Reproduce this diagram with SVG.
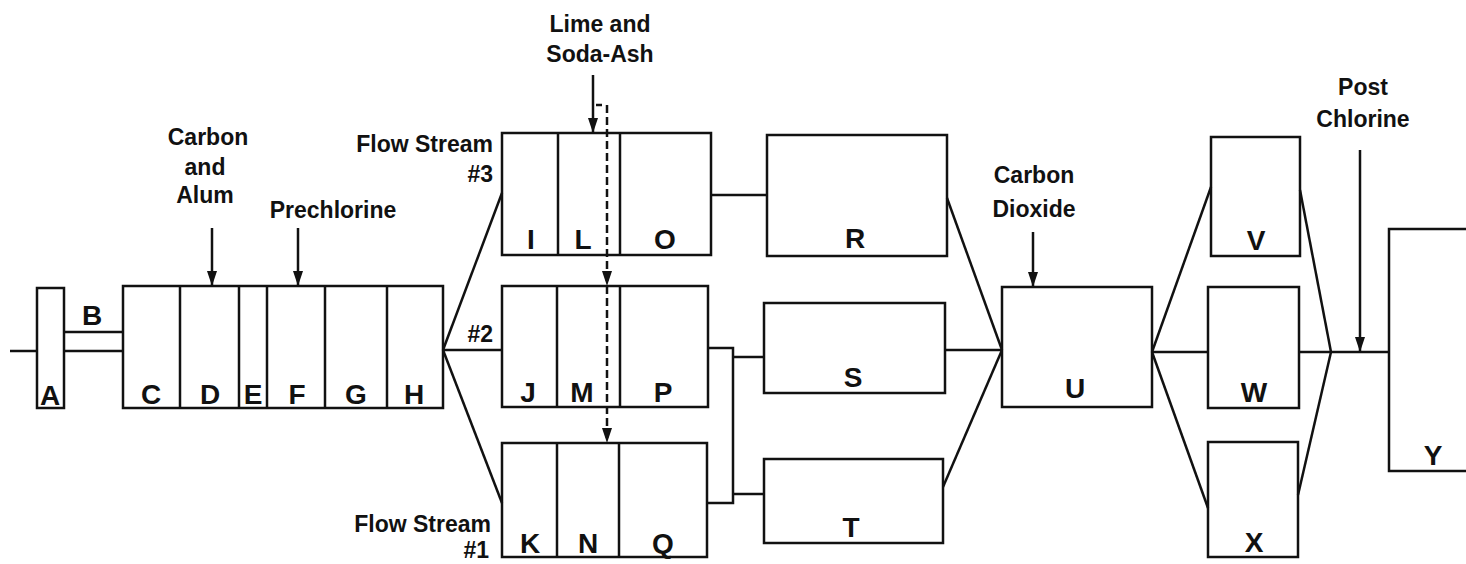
<svg xmlns="http://www.w3.org/2000/svg" width="1466" height="564" viewBox="0 0 1466 564">
<style>
.b{fill:none;stroke:#111;stroke-width:2.5}
.l{fill:none;stroke:#111;stroke-width:2.5}
.d{fill:none;stroke:#111;stroke-width:2.5;stroke-dasharray:8 4}
.k{font-family:"Liberation Sans",Arial,sans-serif;font-weight:bold;font-size:28px;fill:#111;text-anchor:middle}
.t{font-family:"Liberation Sans",Arial,sans-serif;font-weight:bold;font-size:23px;fill:#111;text-anchor:middle}
.r{text-anchor:end}
</style>
<defs>
<marker id="ah" markerUnits="userSpaceOnUse" viewBox="0 0 15 10" refX="15" refY="5" markerWidth="15" markerHeight="10" orient="auto">
<path d="M0,0 L15,5 L0,10 z" fill="#111"/>
</marker>
</defs>
<rect width="1466" height="564" fill="#fff"/>

<g id="connectors">
<line class="l" x1="10" y1="351" x2="37" y2="351"/>
<line class="l" x1="64" y1="332" x2="123" y2="332"/>
<line class="l" x1="64" y1="351" x2="123" y2="351"/>
<line class="l" x1="443" y1="350" x2="502" y2="193"/>
<line class="l" x1="443" y1="350" x2="502" y2="350"/>
<line class="l" x1="443" y1="350" x2="502" y2="503"/>
<line class="l" x1="711" y1="195" x2="767" y2="195"/>
<polyline class="l" points="708,348 733,348 733,503 707,503"/>
<line class="l" x1="733" y1="357" x2="764" y2="357"/>
<line class="l" x1="733" y1="494" x2="764" y2="494"/>
<line class="l" x1="947" y1="198" x2="1002" y2="350"/>
<line class="l" x1="945" y1="350" x2="1002" y2="350"/>
<line class="l" x1="943" y1="487" x2="1002" y2="350"/>
<line class="l" x1="1152" y1="352" x2="1211" y2="187"/>
<line class="l" x1="1152" y1="352" x2="1208" y2="352"/>
<line class="l" x1="1152" y1="352" x2="1208" y2="508"/>
<line class="l" x1="1300" y1="190" x2="1331" y2="352"/>
<line class="l" x1="1299" y1="352" x2="1390" y2="352"/>
<line class="l" x1="1298" y1="495" x2="1331" y2="352"/>
<line class="l" x1="212" y1="228" x2="212" y2="286" marker-end="url(#ah)"/>
<line class="l" x1="298" y1="228" x2="298" y2="286" marker-end="url(#ah)"/>
<line class="l" x1="593" y1="75" x2="593" y2="133" marker-end="url(#ah)"/>
<line class="l" x1="1033" y1="232" x2="1033" y2="287" marker-end="url(#ah)"/>
<line class="l" x1="1360" y1="150" x2="1360" y2="352" marker-end="url(#ah)"/>
<line class="l" x1="596" y1="105" x2="602" y2="105"/>
<line class="d" x1="607" y1="105" x2="607" y2="286" marker-end="url(#ah)"/>
<line class="d" x1="607" y1="286" x2="607" y2="443" marker-end="url(#ah)"/>
</g>

<g id="labels">
<text class="t" x="208" y="145">Carbon</text>
<text class="t" x="205" y="175">and</text>
<text class="t" x="205" y="203">Alum</text>
<text class="t" x="333" y="218">Prechlorine</text>
<text class="t" x="600" y="32">Lime and</text>
<text class="t" x="600" y="62">Soda-Ash</text>
<text class="t r" x="493" y="152">Flow Stream</text>
<text class="t r" x="493" y="182">#3</text>
<text class="t r" x="493" y="342">#2</text>
<text class="t r" x="491" y="532">Flow Stream</text>
<text class="t r" x="489" y="558">#1</text>
<text class="t" x="1034" y="183">Carbon</text>
<text class="t" x="1034" y="217">Dioxide</text>
<text class="t" x="1363" y="95">Post</text>
<text class="t" x="1363" y="127">Chlorine</text>
</g>

<g id="node-A"><rect class="b" x="37" y="288" width="27" height="120"/><text class="k" x="50" y="405">A</text></g>
<g id="node-B"><text class="k" x="92" y="325">B</text></g>
<g id="node-CH">
<rect class="b" x="123" y="286" width="320" height="122"/>
<line class="l" x1="180" y1="286" x2="180" y2="408"/>
<line class="l" x1="239" y1="286" x2="239" y2="408"/>
<line class="l" x1="267" y1="286" x2="267" y2="408"/>
<line class="l" x1="325" y1="286" x2="325" y2="408"/>
<line class="l" x1="387" y1="286" x2="387" y2="408"/>
<text class="k" x="151" y="404">C</text>
<text class="k" x="210" y="404">D</text>
<text class="k" x="253" y="404">E</text>
<text class="k" x="297" y="404">F</text>
<text class="k" x="356" y="404">G</text>
<text class="k" x="414" y="404">H</text>
</g>
<g id="node-ILO">
<rect class="b" x="502" y="133" width="209" height="122"/>
<line class="l" x1="558" y1="133" x2="558" y2="255"/>
<line class="l" x1="620" y1="133" x2="620" y2="255"/>
<text class="k" x="531" y="249">I</text>
<text class="k" x="583" y="249">L</text>
<text class="k" x="665" y="249">O</text>
</g>
<g id="node-JMP">
<rect class="b" x="502" y="286" width="206" height="121"/>
<line class="l" x1="557" y1="286" x2="557" y2="407"/>
<line class="l" x1="620" y1="286" x2="620" y2="407"/>
<text class="k" x="528" y="402">J</text>
<text class="k" x="582" y="402">M</text>
<text class="k" x="663" y="402">P</text>
</g>
<g id="node-KNQ">
<rect class="b" x="502" y="443" width="205" height="114"/>
<line class="l" x1="557" y1="443" x2="557" y2="557"/>
<line class="l" x1="619" y1="443" x2="619" y2="557"/>
<text class="k" x="530" y="553">K</text>
<text class="k" x="588" y="553">N</text>
<text class="k" x="663" y="553">Q</text>
</g>
<g id="node-R"><rect class="b" x="767" y="135" width="180" height="121"/><text class="k" x="855" y="248">R</text></g>
<g id="node-S"><rect class="b" x="764" y="303" width="181" height="90"/><text class="k" x="853" y="387">S</text></g>
<g id="node-T"><rect class="b" x="764" y="459" width="179" height="84"/><text class="k" x="851" y="537">T</text></g>
<g id="node-U"><rect class="b" x="1002" y="287" width="150" height="120"/><text class="k" x="1075" y="398">U</text></g>
<g id="node-V"><rect class="b" x="1211" y="137" width="89" height="119"/><text class="k" x="1256" y="250">V</text></g>
<g id="node-W"><rect class="b" x="1208" y="287" width="91" height="121"/><text class="k" x="1254" y="402">W</text></g>
<g id="node-X"><rect class="b" x="1208" y="442" width="90" height="115"/><text class="k" x="1254" y="552">X</text></g>
<g id="node-Y"><rect class="b" x="1389" y="229" width="90" height="242"/><text class="k" x="1433" y="465">Y</text></g>
</svg>
